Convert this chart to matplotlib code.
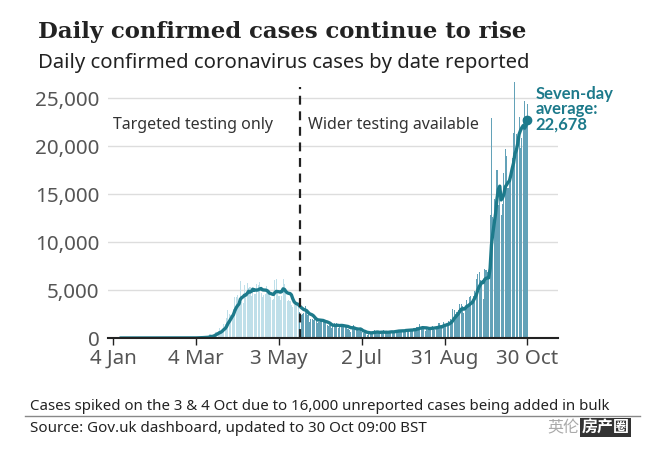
import numpy as np
import pandas as pd
import matplotlib
matplotlib.use("Agg")
import matplotlib.pyplot as plt

# daily confirmed cases by date reported, 3 Jan - 30 Oct 2020
jan = [0, 0, 0, 0, 0, 0, 0, 0, 0, 0, 0, 0, 0, 0, 0, 0, 0, 0, 0, 0, 0, 0, 0, 0, 0, 0, 0, 0, 2]
feb = [0, 0, 0, 0, 0, 1, 0, 0, 1, 4, 0, 0, 1, 0, 0, 0, 0, 0, 0, 0, 0, 0, 0, 4, 0, 0, 2, 5, 3]
mar = [13, 4, 11, 34, 29, 46, 46, 65, 50, 52, 83, 134, 117, 433, 251, 152, 407, 676, 643, 714,
       1035, 665, 967, 1427, 1452, 2129, 2885, 2546, 2433, 2619, 3009]
apr = [4324, 4244, 4450, 3735, 5903, 3802, 3634, 5491, 4344, 5706, 5234, 5288, 4342, 5252, 4603,
       4617, 5599, 5525, 5850, 4676, 4301, 4451, 4583, 5386, 4913, 4463, 4309, 3996, 4076, 6032]
may = [6201, 4806, 4339, 3985, 4406, 6111, 5614, 4649, 3896, 3923, 3877, 3403, 3242, 3446, 3560,
       3450, 3534, 2684, 2412, 2472, 2615, 3287, 2959, 2409, 1625, 2004, 2013, 1887, 2095, 1936, 1570]
jun = [1653, 1871, 1871, 1805, 1650, 1557, 1326, 1205, 1387, 1003, 1266, 1541, 1425, 1514, 1056,
       1279, 1115, 1218, 1346, 1295, 1221, 958, 874, 653, 1118, 1380, 890, 901, 815, 689]
jul = [829, 576, 544, 624, 516, 352, 581, 630, 512, 642, 820, 650, 530, 538, 404, 642, 687, 827,
       580, 560, 445, 560, 769, 768, 767, 747, 685, 581, 763, 846, 880]
aug = [743, 744, 938, 670, 892, 950, 871, 758, 1062, 816, 1148, 1009, 1441, 1012, 1077, 1040, 713,
       1089, 812, 1182, 1033, 1288, 1041, 853, 1184, 1048, 1522, 1276, 1108, 1715, 1406]
sep = [1295, 1508, 1735, 1940, 1813, 2988, 2948, 2460, 2659, 2919, 3539, 3497, 3330, 2621, 3105,
       3991, 3395, 4322, 4422, 3899, 4368, 4926, 6178, 6634, 6874, 6042, 5693, 4044, 7143, 7108]
oct_ = [6914, 6968, 12872, 22961, 12594, 14542, 14162, 17540, 13864, 15166, 12872, 13972, 17234,
        19724, 18980, 15650, 16171, 16982, 18804, 21331, 26688, 21242, 20530, 23012, 19790, 20890,
        22885, 24701, 23065, 24405]

cases = jan + feb + mar + apr + may + jun + jul + aug + sep + oct_
dates = pd.date_range("2020-01-03", periods=len(cases), freq="D")
df = pd.DataFrame({"cases": cases}, index=dates)
df["avg"] = df["cases"].rolling(7).mean()

wider_testing = pd.Timestamp("2020-05-18")
tick_dates = pd.to_datetime(["2020-01-04", "2020-03-04", "2020-05-03",
                             "2020-07-02", "2020-08-31", "2020-10-30"])
tick_labels = ["4 Jan", "4 Mar", "3 May", "2 Jul", "31 Aug", "30 Oct"]
y_ticks = [0, 5000, 10000, 15000, 20000, 25000]

teal = "#1d7a8b"
sans = ["Noto Sans", "DejaVu Sans"]
cjk = ["Noto Sans CJK SC", "DejaVu Sans"]

fig = plt.figure(figsize=(6.5, 4.54), dpi=100)
ax = fig.add_axes([0.166, 0.2555, 0.692, 0.5705])

before = df.index < wider_testing
ax.bar(df.index[before], df["cases"][before], width=0.8, color="#bfdfe9", zorder=2)
ax.bar(df.index[~before], df["cases"][~before], width=0.8, color="#63a2b8", zorder=2)
ax.plot(df.index, df["avg"], color=teal, lw=2.4, zorder=3, solid_capstyle="round")
last = df.index[-1]
ax.plot([last], [df["avg"].iloc[-1]], "o", color=teal, ms=6, zorder=4)

ax.axvline(wider_testing, ymax=0.97, color="#222222", lw=1.6, ls=(0, (4, 3)), zorder=4)

ax.set_xlim(pd.Timestamp("2019-12-31"), pd.Timestamp("2020-11-21"))
ax.set_ylim(0, 27000)
ax.set_yticks(y_ticks)
ax.set_yticklabels([f"{v:,}" for v in y_ticks], family=sans, fontsize=14.8, color="#555555")
ax.set_xticks(tick_dates)
ax.set_xticklabels(tick_labels, family=sans, fontsize=14.8, color="#555555")
ax.tick_params(axis="y", length=0, pad=6)
ax.tick_params(axis="x", length=5, width=1, color="#222222", pad=3)
ax.grid(axis="y", color="#dddddd", lw=1, zorder=0)
for s in ["top", "right", "left"]:
    ax.spines[s].set_visible(False)
ax.spines["bottom"].set_color("#222222")
ax.spines["bottom"].set_linewidth(1.5)
ax.spines["bottom"].set_zorder(5)

ax.text(tick_dates[0], 22200, "Targeted testing only", ha="left", va="center",
        family=sans, fontsize=11.5, color="#333333")
ax.text(wider_testing + pd.Timedelta(days=6), 22200, "Wider testing available", ha="left",
        va="center", family=sans, fontsize=11.5, color="#333333")
ax.annotate(f"Seven-day\naverage:\n{df['avg'].iloc[-1]:,.0f}", xy=(last, df["avg"].iloc[-1]),
            xytext=(6, 25), textcoords="offset points", ha="left", va="top",
            family=["Lato", "DejaVu Sans"], fontsize=12, fontweight="bold", color=teal,
            linespacing=0.95, annotation_clip=False)

fig.text(0.058, 0.916, "Daily confirmed cases continue to rise", family="DejaVu Serif",
         fontsize=16.4, fontweight="bold", color="#222222", va="baseline")
fig.text(0.058, 0.85, "Daily confirmed coronavirus cases by date reported", family=sans,
         fontsize=14.6, color="#222222", va="baseline")
fig.text(0.046, 0.097, "Cases spiked on the 3 & 4 Oct due to 16,000 unreported cases being added in bulk",
         family=sans, fontsize=10.8, color="#222222", va="baseline")
fig.add_artist(plt.Line2D([0.038, 0.985], [0.084, 0.084], color="#888888", lw=1))
fig.text(0.046, 0.048, "Source: Gov.uk dashboard, updated to 30 Oct 09:00 BST",
         family=sans, fontsize=10.9, color="#222222", va="baseline")
fig.text(0.842, 0.048, "英伦", family=cjk, fontsize=11.5, color="#aaaaaa", va="baseline")
fig.text(0.895, 0.048, "房产圈", family=cjk, fontsize=11.5, color="white", va="baseline",
         fontweight="bold", bbox=dict(facecolor="#333333", edgecolor="none", pad=1))

fig.savefig("out.png", dpi=100, facecolor="white")
